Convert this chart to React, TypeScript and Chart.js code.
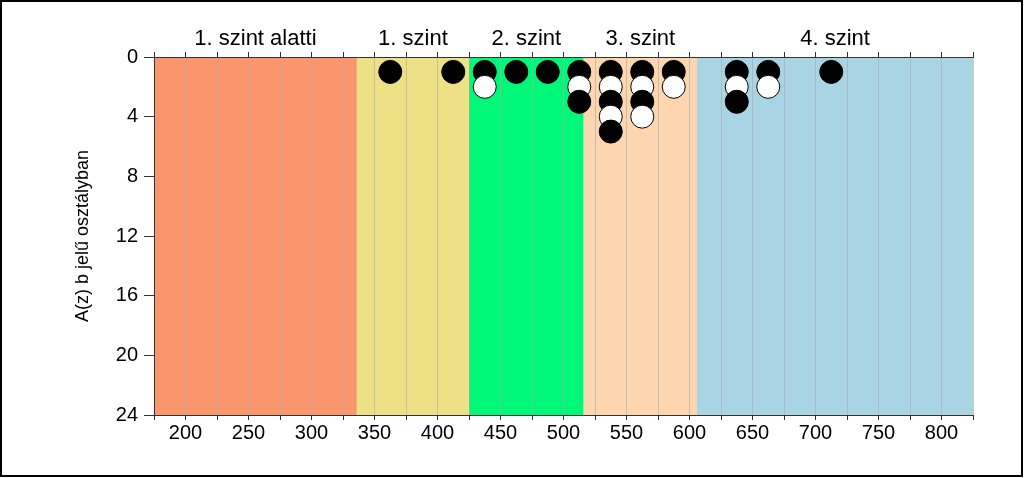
import React, { useEffect, useRef } from "react";
import { Chart, registerables } from "chart.js";

Chart.register(...registerables);

// Competency levels (score bands)
const levelNames = ["1. szint alatti", "1. szint", "2. szint", "3. szint", "4. szint"];
const levelBounds = [175, 336, 425, 516, 606, 825];
const levelColors = ["#F9966D", "#ECE184", "#00F878", "#FDD5AE", "#A8D4E4"];

// Classes: score bin centre and stacked markers (B = black, W = white), bottom-up order
const binCenters = [362.5, 412.5, 437.5, 462.5, 487.5, 512.5, 537.5, 562.5, 587.5, 637.5, 662.5, 712.5];
const binStacks = ["B", "B", "BW", "B", "B", "BWB", "BWBWB", "BWBW", "BW", "BWB", "BW", "B"];

const yTicks = [0, 4, 8, 12, 16, 20, 24];
const xMin = 175;
const xMax = 825;
const yTitle = "A(z) b jelű osztályban";

const FONT = "'Liberation Sans', Arial, sans-serif";

export default function App() {
  const ref = useRef<HTMLCanvasElement | null>(null);

  useEffect(() => {
    if (!ref.current) return;
    const pts: { x: number; y: number }[] = [];
    const fills: string[] = [];
    binCenters.forEach((x, i) => {
      binStacks[i].split("").forEach((k, j) => {
        pts.push({ x, y: j + 1 });
        fills.push(k === "B" ? "#000000" : "#FFFFFF");
      });
    });

    const bandPlugin = {
      id: "bands",
      beforeDraw(chart: any) {
        const { ctx, chartArea, scales } = chart;
        const xs = scales.x;
        ctx.save();
        for (let i = 0; i < levelNames.length; i++) {
          const x0 = xs.getPixelForValue(levelBounds[i]);
          const x1 = xs.getPixelForValue(levelBounds[i + 1]);
          ctx.fillStyle = levelColors[i];
          ctx.fillRect(x0, chartArea.top, x1 - x0, chartArea.bottom - chartArea.top);
          ctx.fillStyle = "#000";
          ctx.font = `22px ${FONT}`;
          ctx.textAlign = "center";
          ctx.textBaseline = "alphabetic";
          ctx.fillText(levelNames[i], (x0 + x1) / 2, 45);
        }
        ctx.restore();
      },
    };

    const chart = new Chart(ref.current, {
      type: "scatter",
      data: {
        datasets: [
          {
            data: pts,
            pointRadius: 11.5,
            pointHoverRadius: 11.5,
            pointBorderWidth: 1,
            pointBorderColor: "#000",
            pointBackgroundColor: fills,
            showLine: false,
          } as any,
        ],
      },
      options: {
        animation: false,
        responsive: false,
        devicePixelRatio: 1,
        events: [],
        layout: { padding: { left: 0, right: 51, top: 52, bottom: 0 } },
        plugins: { legend: { display: false }, tooltip: { enabled: false } },
        scales: {
          x: {
            type: "linear",
            position: "bottom",
            min: xMin,
            max: xMax,
            afterBuildTicks: (s: any) => {
              const t = [];
              for (let v = xMin; v <= xMax; v += 25) t.push({ value: v });
              s.ticks = t;
            },
            afterFit: (s: any) => {
              s.height = 63;
            },
            grid: {
              display: true,
              drawOnChartArea: true,
              drawTicks: true,
              tickLength: 5,
              color: "rgba(170,170,170,0.6)",
              tickColor: "#333",
              lineWidth: 1,
            },
            border: { display: true, color: "#333", width: 1 },
            ticks: {
              autoSkip: false,
              maxRotation: 0,
              padding: 1,
              color: "#000",
              font: { family: FONT, size: 20 },
              callback: (v: any) => (Number(v) % 50 === 0 ? String(v) : ""),
            },
          },
          xTop: {
            type: "linear",
            position: "top",
            min: xMin,
            max: xMax,
            afterBuildTicks: (s: any) => {
              const t = [];
              for (let v = xMin; v <= xMax; v += 25) t.push({ value: v });
              s.ticks = t;
            },
            afterFit: (s: any) => {
              s.height = 5;
            },
            grid: {
              display: true,
              drawOnChartArea: false,
              drawTicks: true,
              tickLength: 5,
              tickColor: "#333",
            },
            border: { display: true, color: "#333", width: 1 },
            ticks: { display: false },
          },
          y: {
            type: "linear",
            position: "left",
            reverse: true,
            min: 0,
            max: 24,
            afterBuildTicks: (s: any) => {
              s.ticks = yTicks.map((v) => ({ value: v }));
            },
            afterFit: (s: any) => {
              s.width = 154;
            },
            grid: {
              display: true,
              drawOnChartArea: false,
              drawTicks: true,
              tickLength: 10,
              tickColor: "#333",
            },
            border: { display: true, color: "#333", width: 1 },
            ticks: {
              padding: 6,
              color: "#000",
              font: { family: FONT, size: 20 },
            },
            title: {
              display: true,
              text: yTitle,
              color: "#000",
              font: { family: FONT, size: 18 },
              padding: { top: 72, bottom: 0 },
            },
          },
        },
      },
      plugins: [bandPlugin],
    } as any);
    return () => chart.destroy();
  }, []);

  return (
    <div style={{ position: "absolute", left: 0, top: 0, width: 1024, height: 478, background: "#fff" }}>
      <canvas ref={ref} width={1024} height={478} style={{ display: "block" }} />
      <div
        style={{
          position: "absolute",
          left: 0,
          top: 0,
          width: 1023,
          height: 477,
          border: "2px solid #000",
          boxSizing: "border-box",
          pointerEvents: "none",
        }}
      />
    </div>
  );
}
